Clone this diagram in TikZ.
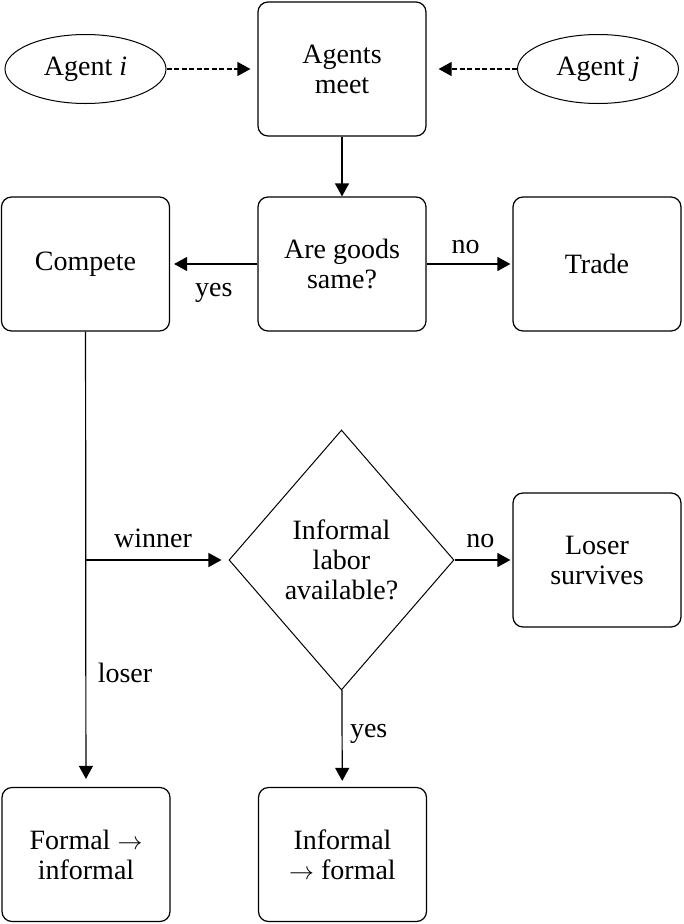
\documentclass[tikz,border=0pt]{standalone}
\usepackage{fontspec}
\setmainfont{Liberation Serif}
\usepackage{amsmath,amssymb}
\usetikzlibrary{arrows.meta, shapes.geometric, calc}

\tikzset{
    stepbox/.style={draw, line width=1.2pt, rounded corners=10pt, minimum width=168pt, minimum height=134pt, align=center, inner sep=0pt},
    agent/.style={draw, ellipse, line width=1pt, minimum width=161pt, minimum height=69pt, inner sep=0pt},
    query/.style={draw, diamond, line width=1pt, minimum width=225pt, minimum height=260pt, align=center, inner sep=0pt},
    flow/.style={line width=1.2pt, -{Triangle[length=13pt, width=14pt]}},
    meet/.style={flow, dash pattern=on 5pt off 2.5pt}
}

\begin{document}
\begin{tikzpicture}[x=1pt, y=1pt, yscale=-1, font=\fontsize{28pt}{30pt}\selectfont]
        \useasboundingbox (0,0) rectangle (684,924);

        \node[stepbox] (agents) at (342,69) {Agents\\meet};
        \node[agent] (agi) at (85.5,69) {Agent \textit{i}};
        \node[agent] (agj) at (598,69) {Agent \textit{j}};

        \node[stepbox] (same) at (342,264) {Are goods\\same?};
        \node[stepbox] (compete) at (85.5,264) {Compete};
        \node[stepbox] (trade) at (597,264) {Trade};

        \node[query] (labor) at (341.5,560) {Informal\\labor\\available?};
        \node[stepbox] (survives) at (597,560) {Loser\\survives};

        \node[stepbox] (toinf) at (86,854.5) {Formal $\rightarrow$\\informal};
        \node[stepbox] (tofor) at (342.5,854.5) {Informal\\$\rightarrow$ formal};

        \coordinate (split) at (compete.south |- labor.west);

        \draw[meet, shorten >=7pt] (agi) -- (agents);
        \draw[meet, shorten >=12pt] (agj) -- (agents);
        \draw[flow] (agents) -- (same);

        \draw[flow, shorten >=4pt] (same) -- (compete) node[midway, below=15pt]{yes};
        \draw[flow, shorten >=2pt] (same) -- (trade) node[midway, above=6pt, xshift=-4pt]{no};

        \draw[flow, shorten >=8pt] (compete) -- (toinf) node[pos=0.75, right=8pt]{loser};
        \draw[flow, shorten >=7pt] (split) -- (labor) node[midway, above=8pt, xshift=-4pt]{winner};
        \draw[flow, shorten >=2pt] (labor) -- (survives) node[midway, above=8pt, xshift=-3pt]{no};
        \draw[flow, shorten >=6pt] (labor) -- (tofor) node[pos=0.45, right=4pt]{yes};

    \end{tikzpicture}
\end{document}
